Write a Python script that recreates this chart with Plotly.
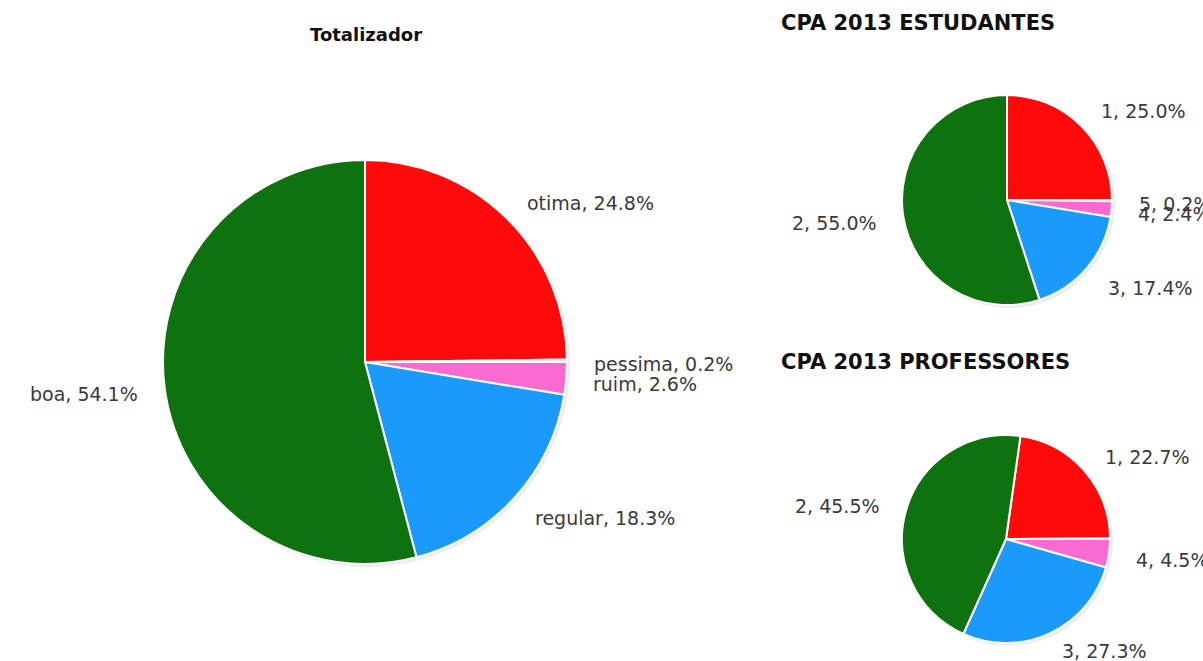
import math
import plotly.graph_objects as go

W, H = 1203, 661

# ---- data ----
tot_labels = ["otima", "pessima", "ruim", "regular", "boa"]
tot_values = [24.8, 0.2, 2.6, 18.3, 54.1]

est_labels = ["1", "5", "4", "3", "2"]
est_values = [25.0, 0.2, 2.4, 17.4, 55.0]

prof_labels = ["1", "5", "4", "3", "2"]
prof_values = [22.7, 0.0, 4.5, 27.3, 45.5]

colors = ["#FE0A0A", "#C8A0E0", "#FA6BD2", "#1A9BFC", "#0E730E"]

titles = ["Totalizador", "CPA 2013 ESTUDANTES", "CPA 2013 PROFESSORES"]

# ---- layout geometry (pixels) ----
pies = [
    dict(labels=tot_labels, values=tot_values, cx=365, cy=362, r=202, rot=0,
         title=titles[0], tx=366, ty=35, tanchor="center", tsize=18),
    dict(labels=est_labels, values=est_values, cx=1007, cy=200, r=105, rot=0,
         title=titles[1], tx=779, ty=23, tanchor="left", tsize=21),
    dict(labels=prof_labels, values=prof_values, cx=1006, cy=539, r=104, rot=8,
         title=titles[2], tx=779, ty=362, tanchor="left", tsize=21),
]

def px(x):
    return x / W

def py(y):
    return 1 - y / H

fig = go.Figure()
shapes = []
annotations = []

for p in pies:
    cx, cy, r = p["cx"], p["cy"], p["r"]
    # subtle shadow
    shapes.append(dict(type="circle", xref="paper", yref="paper", layer="below",
                       x0=px(cx - r + 1), x1=px(cx + r + 3),
                       y0=py(cy + r + 3), y1=py(cy - r + 1),
                       fillcolor="rgba(0,0,0,0.07)", line=dict(width=0)))
    fig.add_trace(go.Pie(
        labels=p["labels"], values=p["values"], sort=False, direction="clockwise",
        rotation=p["rot"], textinfo="none", hoverinfo="label+percent",
        marker=dict(colors=colors, line=dict(color="white", width=2)),
        domain=dict(x=[px(cx - r), px(cx + r)], y=[py(cy + r), py(cy - r)]),
        showlegend=False,
    ))
    # labels
    total = sum(p["values"])
    cum = 0.0
    R = r + 25
    for lab, v in zip(p["labels"], p["values"]):
        if v <= 0:
            cum += v
            continue
        mid = p["rot"] + (cum + v / 2) / total * 360
        cum += v
        th = math.radians(mid)
        lx = cx + R * math.sin(th)
        ly = min(cy - R * math.cos(th) + 3, H - 10)
        right = math.sin(th) >= 0
        annotations.append(dict(
            x=px(lx), y=py(ly), xref="paper", yref="paper",
            text=f"{lab}, {v / total * 100:.1f}%", showarrow=False,
            xanchor="left" if right else "right", yanchor="middle",
            font=dict(family="DejaVu Sans, Verdana", size=19, color="#3a3a3a"),
        ))
    annotations.append(dict(
        x=px(p["tx"]), y=py(p["ty"]), xref="paper", yref="paper",
        text=f"<b>{p['title']}</b>", showarrow=False,
        xanchor=p["tanchor"], yanchor="middle",
        font=dict(family="DejaVu Sans, Verdana", size=p["tsize"], color="#111111"),
    ))

fig.update_layout(
    width=W, height=H, margin=dict(l=0, r=0, t=0, b=0),
    paper_bgcolor="white", plot_bgcolor="white",
    shapes=shapes, annotations=annotations,
)

fig.write_html("out.html", config={"displayModeBar": False},
               post_script="document.body.style.margin='0px';document.body.style.overflow='hidden';")
